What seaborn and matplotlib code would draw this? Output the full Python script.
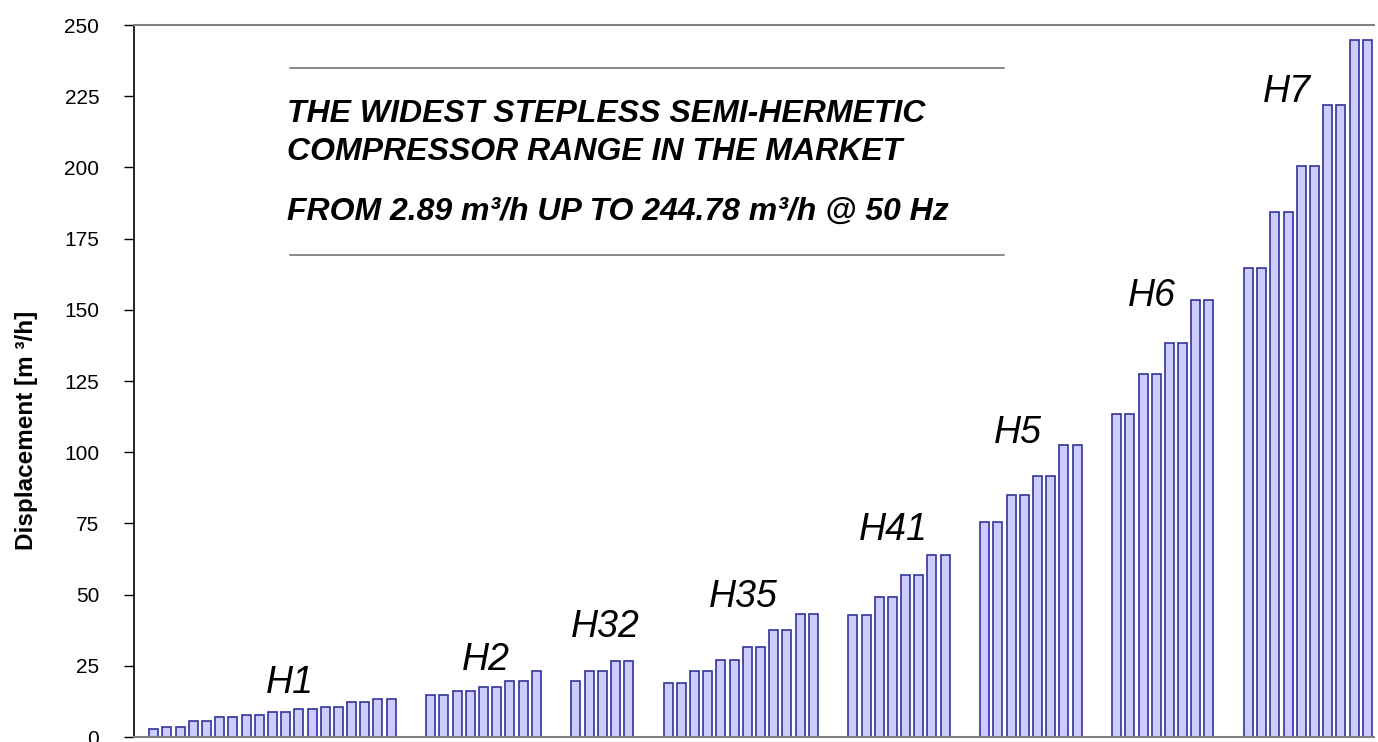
"""
Displacement of the stepless semi-hermetic compressor range, per family
"""

import numpy as np
import pandas as pd
import matplotlib
matplotlib.use("Agg")
import matplotlib.pyplot as plt
import seaborn as sns

# Series (m3/h @ 50 Hz), one list per compressor family
families = ["H1", "H2", "H32", "H35", "H41", "H5", "H6", "H7"]
h1 = [2.89, 3.5, 3.5, 5.8, 5.8, 7.0, 7.0, 7.9, 7.9, 8.7, 8.7, 9.9, 9.9, 10.6, 10.6, 12.2, 12.2, 13.4, 13.4]
h2 = [14.6, 14.6, 16.2, 16.2, 17.4, 17.4, 19.6, 19.6, 23.1]
h32 = [19.6, 23.1, 23.1, 26.6, 26.6]
h35 = [18.8, 18.8, 23.1, 23.1, 27.2, 27.2, 31.5, 31.5, 37.7, 37.7, 43.3, 43.3]
h41 = [42.8, 42.8, 49.2, 49.2, 56.9, 56.9, 63.8, 63.8]
h5 = [75.6, 75.6, 84.9, 84.9, 91.8, 91.8, 102.4, 102.4]
h6 = [113.5, 113.5, 127.6, 127.6, 138.2, 138.2, 153.4, 153.4]
h7 = [164.6, 164.6, 184.2, 184.2, 200.5, 200.5, 222.0, 222.0, 244.78, 244.78]
y_ticks = [0, 25, 50, 75, 100, 125, 150, 175, 200, 225, 250]

headline = [
    "THE WIDEST STEPLESS SEMI-HERMETIC",
    "COMPRESSOR RANGE IN THE MARKET",
    "FROM 2.89 m³/h UP TO 244.78 m³/h @ 50 Hz",
]

# family label placement (category slot, value of text baseline)
label_x = [11.3, 26.2, 35.2, 45.7, 57.05, 66.5, 76.7, 86.9]
label_y = [15.3, 23.5, 35.2, 45.8, 69.2, 103.1, 151.3, 223.1]

# one empty slot before the first family, two between families
series = [h1, h2, h32, h35, h41, h5, h6, h7]
rows = []
slot = 1
for name, vals in zip(families, series):
    for v in vals:
        rows.append({"slot": slot, "family": name, "displacement": v})
        slot += 1
    slot += 2
df = pd.DataFrame(rows)
n_slots = slot - 2

sns.set_theme(style="white")
plt.rcParams["font.family"] = ["Liberation Sans", "DejaVu Sans"]
plt.rcParams["text.color"] = "black"
plt.rcParams["axes.labelcolor"] = "black"
plt.rcParams["ytick.color"] = "black"

fig = plt.figure(figsize=(13.78, 7.42), dpi=100)
ax = fig.add_axes([0.0972, 0.0067, 0.8998, 0.9596])

sns.barplot(data=df, x="slot", y="displacement", native_scale=True,
            width=0.68, color="#CCCCFF", saturation=1,
            edgecolor="#333399", linewidth=1.2, errorbar=None, ax=ax)

ax.set_xlim(-0.5, n_slots - 0.5)
ax.set_ylim(0, 250)
ax.set_yticks(y_ticks)
ax.set_yticklabels([str(t) for t in y_ticks], fontsize=15)
ax.set_xticks([])
ax.set_xlabel("")
ax.set_ylabel("Displacement [m ³/h]", fontsize=17.5, fontweight="bold")
ax.yaxis.set_label_coords(-0.077, 0.43)
ax.tick_params(axis="y", direction="out", length=7, width=1, color="black",
               left=True, pad=18)

ax.spines["right"].set_visible(False)
ax.spines["left"].set_color("black")
ax.spines["left"].set_linewidth(1.2)
ax.spines["bottom"].set_color("#808080")
ax.spines["bottom"].set_linewidth(1.5)
ax.spines["top"].set_color("#808080")
ax.spines["top"].set_linewidth(1.5)

for name, x, y in zip(families, label_x, label_y):
    ax.text(x, y, name, fontsize=27, fontstyle="italic", ha="center", va="baseline")

# headline between two rules
for yy in [0.9392, 0.677]:
    ax.plot([0.126, 0.702], [yy, yy], transform=ax.transAxes, color="#808080",
            lw=1.3, clip_on=False)
for txt, yy in zip(headline, [0.8642, 0.8104, 0.7261]):
    ax.text(0.1231, yy, txt, transform=ax.transAxes, fontsize=23,
            fontweight="bold", fontstyle="italic", ha="left", va="baseline")

fig.savefig("out.png", dpi=100)
